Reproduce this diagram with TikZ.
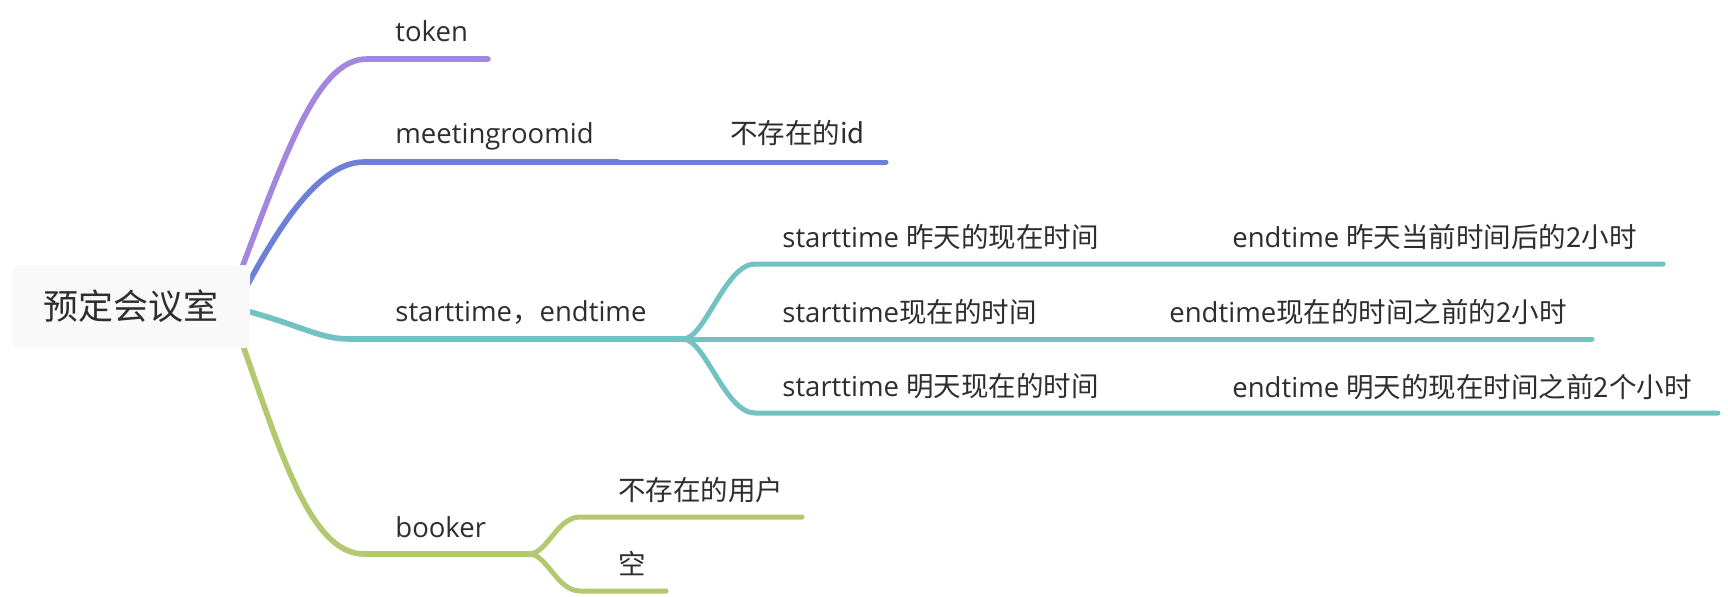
\documentclass[tikz,border=0pt]{standalone}
\usepackage{fontspec}
\setmainfont{Open Sans}
\newfontfamily\cjk{Noto Sans CJK SC}
\definecolor{cpur}{HTML}{A386DE}
\definecolor{cblu}{HTML}{6C80D8}
\definecolor{cteal}{HTML}{72C2C2}
\definecolor{cgrn}{HTML}{B3C970}
\definecolor{ctxt}{HTML}{2E2E2E}
\definecolor{cbox}{HTML}{F9F9F9}
\begin{document}
\begin{tikzpicture}[x=0.5pt,y=-0.5pt,
  lvlone/.style={line width=2.8pt,line cap=round},
  lvltwo/.style={line width=2.5pt,line cap=round},
  txt/.style={anchor=base west,inner sep=0pt,text=ctxt,font=\fontsize{13.75}{16}\selectfont},
  rootbox/.style={fill=cbox,rounded corners=3pt,minimum width=119pt,minimum height=41.5pt,inner sep=0pt,text=ctxt,font=\cjk\fontsize{17.5}{20}\selectfont}]
\useasboundingbox (0,0) rectangle (1728,596);
% coordinates
\coordinate (s1) at (240,273);
\coordinate (s2) at (248,284);
\coordinate (s3) at (243,310);
\coordinate (s4) at (241,340);
\coordinate (k1) at (367,59);  \coordinate (k2) at (488,59);
\coordinate (m1) at (364,162); \coordinate (m2) at (618,162); \coordinate (m3) at (886,162);
\coordinate (t1) at (349,339); \coordinate (tb) at (683,339);
\coordinate (a1) at (755,264); \coordinate (a2) at (1663,264);
\coordinate (b2) at (1592,339);
\coordinate (c1) at (755,413); \coordinate (c2) at (1718,413);
\coordinate (g1) at (364,554); \coordinate (gb) at (529,554);
\coordinate (u1) at (580,517); \coordinate (u2) at (802,517);
\coordinate (e1) at (580,591); \coordinate (e2) at (666,591);
% main branches
\draw[lvlone,cpur] (s1) .. controls (290,140) and (320,59) .. (k1) -- (k2);
\draw[lvlone,cblu] (s2) .. controls (280,225) and (320,162) .. (m1) -- (m2);
\draw[lvltwo,cblu] (m2) -- (m3);
\draw[lvlone,cteal] (s3) .. controls (300,325) and (320,339) .. (t1) -- (tb);
\draw[lvlone,cgrn] (s4) .. controls (280,450) and (310,554) .. (g1) -- (gb);
% teal children
\draw[lvltwo,cteal] (tb) .. controls (705,339) and (725,264) .. (a1) -- (a2);
\draw[lvltwo,cteal] (tb) -- (b2);
\draw[lvltwo,cteal] (tb) .. controls (705,339) and (725,413) .. (c1) -- (c2);
% green children
\draw[lvltwo,cgrn] (gb) .. controls (547,554) and (557,517) .. (u1) -- (u2);
\draw[lvltwo,cgrn] (gb) .. controls (547,554) and (557,591) .. (e1) -- (e2);
% root
\node[rootbox] (root) at (131,306.5) {预定会议室};
% labels
\node[txt] (token) at (395,41) {token};
\node[txt] (mrid) at (395,143) {meetingroomid};
\node[txt] (noid) at (730,143) {\cjk 不存在的id};
\node[txt] (se) at (395,321) {starttime{\cjk ，}endtime};
\node[txt] (bk) at (395,537) {booker};
\node[txt] (sa) at (782,247) {starttime {\cjk 昨天的现在时间}};
\node[txt] (ea) at (1232,247) {endtime {\cjk 昨天当前时间后的2小时}};
\node[txt] (sb) at (782,322) {starttime{\cjk 现在的时间}};
\node[txt] (eb) at (1169,322) {endtime{\cjk 现在的时间之前的2小时}};
\node[txt] (sc) at (782,396) {starttime {\cjk 明天现在的时间}};
\node[txt] (ec) at (1232,397) {endtime {\cjk 明天的现在时间之前2个小时}};
\node[txt] (nu) at (618,500) {\cjk 不存在的用户};
\node[txt] (ko) at (618,574) {\cjk 空};
\end{tikzpicture}
\end{document}
